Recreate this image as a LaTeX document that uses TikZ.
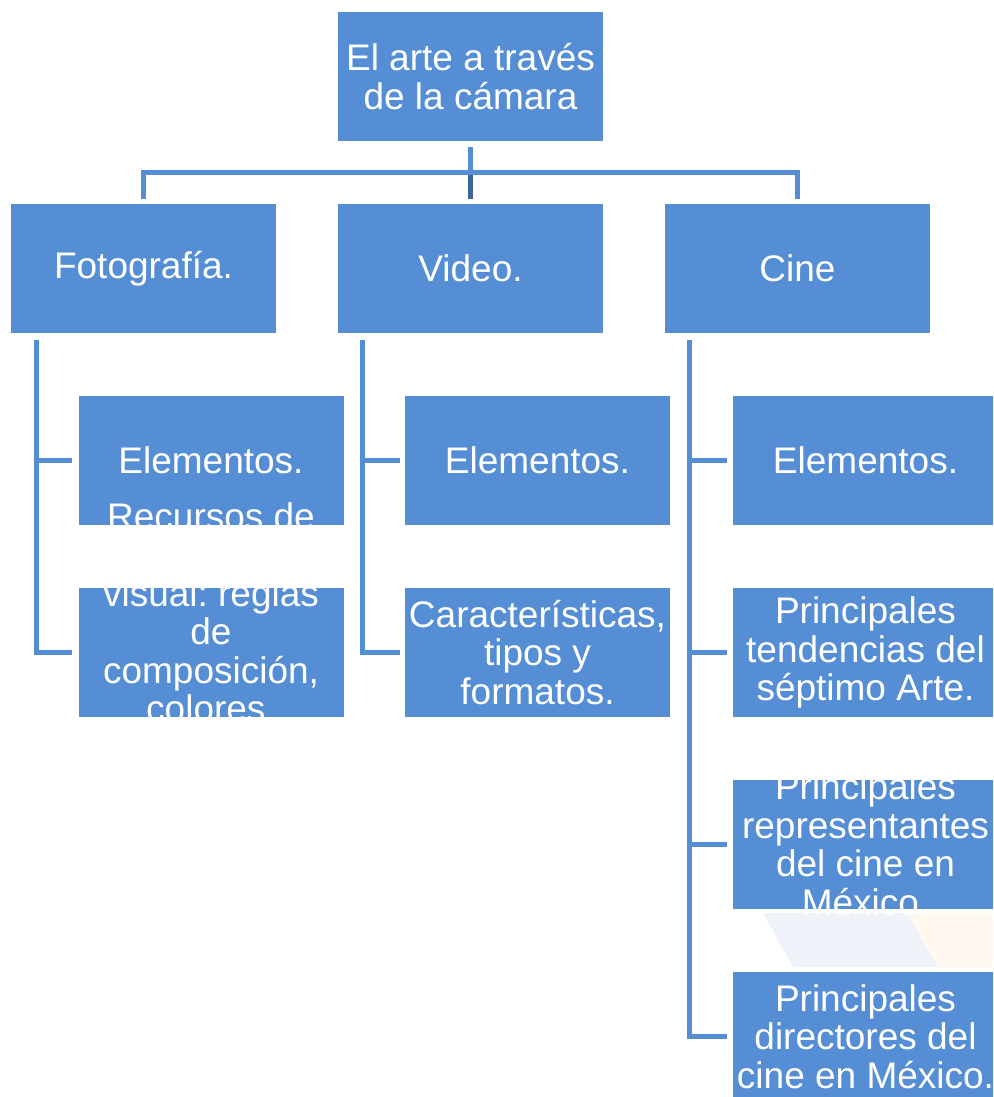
\documentclass[tikz,border=0pt]{standalone}
\usepackage{fontspec}
\setmainfont{Liberation Sans}
\usetikzlibrary{calc}
\definecolor{boxblue}{HTML}{558ED5}
\definecolor{linkdark}{HTML}{3C6498}
\definecolor{markblue}{HTML}{EEF3FA}
\definecolor{markorange}{HTML}{FFF8EE}
\newcommand{\boxtext}[1]{\parbox[c][129pt][c]{265pt}{\centering\frenchspacing #1}}
\tikzset{
	box/.style={rectangle, fill=boxblue, text=white, inner sep=0pt,
		minimum width=265pt, minimum height=129pt,
		font=\fontsize{37}{38.5}\selectfont},
	link/.style={draw=boxblue, line width=5pt}
}

\begin{document}
\begin{tikzpicture}[x=1pt, y=-1pt]
			%%%%% START %%%%%
			\useasboundingbox (0, 0) rectangle (993, 1097);
			\clip (0, 0) rectangle (993, 1097);
			
			% faint background marks
			\fill[markblue] (763, 913) -- (907, 913) -- (938, 967) -- (793, 967) -- cycle;
			\fill[markorange] (907, 913) -- (993, 913) -- (993, 967) -- (938, 967) -- cycle;
			
			\node[box] (arte) at (470.5, 76.5) {\boxtext{El arte a través\\de la cámara}};
			
			\node[box] (foto) at (143.5, 268.5) {\boxtext{Fotografía.}};
			\node[box] (video) at (470.5, 268.5) {\boxtext{Video.}};
			\node[box] (cine) at (797.5, 268.5) {\boxtext{Cine}};
			
			\node[box] (fotoEl) at (211, 460.5) {\boxtext{Elementos.}};
			\node[box] (fotoRec) at (211, 652.5) {\boxtext{Recursos de\\~\\visual: reglas\\de\\composición,\\colores.\par\vspace{80pt}}};
			
			\node[box] (videoEl) at (537.5, 460.5) {\boxtext{Elementos.}};
			\node[box] (videoCar) at (537.5, 652.5) {\boxtext{Características,\\tipos y\\formatos.}};
			
			\node[box] (cineEl) at (865.5, 460.5) {\boxtext{Elementos.}};
			\node[box] (cineTend) at (865.5, 652.5) {\boxtext{Principales\\tendencias del\\séptimo Arte.}};
			\node[box] (cineRep) at (865.5, 844.5) {\boxtext{Principales\\representantes\\del cine en\\México.}};
			\node[box] (cineDir) at (865.5, 1036.5) {\boxtext{Principales\\directores del\\cine en México.}};
			
			% top level
			\draw[link] ([yshift=-6pt]arte.south) -- ++(0, 25.5) -| ([yshift=5pt]foto.north);
			\draw[link] ([yshift=-6pt]arte.south) -- ++(0, 25.5) -| ([yshift=5pt]cine.north);
			\draw[link] ([yshift=-6pt]arte.south) -- ([yshift=5pt]video.north);
			\draw[link, draw=linkdark] ([yshift=-34pt]arte.south) -- ([yshift=5pt]video.north);
			
			% fotografia
			\draw[link] ([xshift=26pt, yshift=-7pt]foto.south west) |- ([xshift=-6pt]fotoEl.west);
			\draw[link] ([xshift=26pt, yshift=-7pt]foto.south west) |- ([xshift=-6pt]fotoRec.west);
			
			% video
			\draw[link] ([xshift=25pt, yshift=-7pt]video.south west) |- ([xshift=-5pt]videoEl.west);
			\draw[link] ([xshift=25pt, yshift=-7pt]video.south west) |- ([xshift=-5pt]videoCar.west);
			
			% cine
			\draw[link] ([xshift=25pt, yshift=-7pt]cine.south west) |- ([xshift=-6pt]cineEl.west);
			\draw[link] ([xshift=25pt, yshift=-7pt]cine.south west) |- ([xshift=-6pt]cineTend.west);
			\draw[link] ([xshift=25pt, yshift=-7pt]cine.south west) |- ([xshift=-6pt]cineRep.west);
			\draw[link] ([xshift=25pt, yshift=-7pt]cine.south west) |- ([xshift=-6pt]cineDir.west);
			
			%%%%% END %%%%%
		\end{tikzpicture}
\end{document}
